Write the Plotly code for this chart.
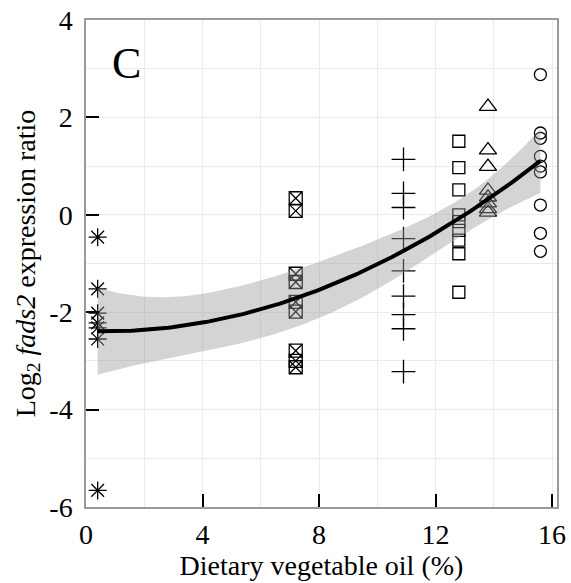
import numpy as np
import plotly.graph_objects as go

# Dietary vegetable oil inclusion (%) for each diet group
oil_levels = [0.4, 7.2, 10.9, 12.8, 13.8, 15.6]

# Log2 fads2 expression ratio per fish, one list per diet group
expr_00 = [-0.46, -1.52, -2.02, -2.22, -2.32, -2.55, -5.66]
expr_07 = [0.34, 0.08, -1.21, -1.38, -1.79, -1.99, -2.79, -3.00, -3.13]
expr_11 = [1.14, 0.44, 0.15, -0.49, -1.15, -1.67, -2.05, -2.34, -3.22]
expr_13 = [1.51, 0.97, 0.51, 0.00, -0.14, -0.32, -0.52, -0.80, -1.59]
expr_14 = [2.22, 1.33, 0.99, 0.50, 0.36, 0.24, 0.12, 0.05]
expr_16 = [2.88, 1.68, 1.57, 1.20, 1.00, 0.88, 0.20, -0.38, -0.75]

groups = [expr_00, expr_07, expr_11, expr_13, expr_14, expr_16]
symbols = ["asterisk-open", "square-x-open", "cross-thin-open",
           "square-open", "triangle-up-open", "circle-open"]
sizes = [15, 13, 17, 12, 15, 12]

x_ticks = [0, 4, 8, 12, 16]
y_ticks = [-6, -4, -2, 0, 2, 4]

FONT = "Liberation Serif, Times New Roman, serif"

fig = go.Figure()

# raw observations
for lvl, vals, sym, sz in zip(oil_levels, groups, symbols, sizes):
    fig.add_trace(go.Scatter(
        x=[lvl] * len(vals), y=vals, mode="markers",
        marker=dict(symbol=sym, size=sz, color="black",
                    line=dict(color="black", width=1.3)),
        showlegend=False, hoverinfo="x+y"))

# quadratic least-squares fit with 95% confidence band
xs = np.concatenate([[lvl] * len(v) for lvl, v in zip(oil_levels, groups)])
ys = np.concatenate(groups)
X = np.column_stack([np.ones_like(xs), xs, xs ** 2])
beta, *_ = np.linalg.lstsq(X, ys, rcond=None)
resid = ys - X @ beta
dof = len(ys) - 3
s2 = resid @ resid / dof
xtx_inv = np.linalg.inv(X.T @ X)
t_crit = 2.012  # Student t, 0.975 quantile, ~47 df

xg = np.linspace(min(oil_levels), max(oil_levels), 120)
Xg = np.column_stack([np.ones_like(xg), xg, xg ** 2])
yg = Xg @ beta
se = np.sqrt(s2 * np.einsum("ij,jk,ik->i", Xg, xtx_inv, Xg))
lo, hi = yg - t_crit * se, yg + t_crit * se

fig.add_trace(go.Scatter(
    x=np.concatenate([xg, xg[::-1]]), y=np.concatenate([hi, lo[::-1]]),
    fill="toself", fillcolor="rgba(153,153,153,0.42)",
    line=dict(width=0), mode="lines", showlegend=False, hoverinfo="skip"))
fig.add_trace(go.Scatter(
    x=xg, y=yg, mode="lines", line=dict(color="black", width=4),
    showlegend=False, hoverinfo="skip"))

fig.add_annotation(x=1.4, y=3.1, text="C", showarrow=False,
                   font=dict(family=FONT, size=44, color="black"))

axis_common = dict(
    showline=True, mirror=True, linecolor="#9a9a9a", linewidth=1.5,
    ticks="inside", ticklen=13, tickwidth=2, tickcolor="black",
    tickfont=dict(family=FONT, size=28, color="black"),
    showgrid=True, gridcolor="#ebebeb", gridwidth=1, zeroline=False,
    automargin=False,
)

fig.update_layout(
    width=571, height=583,
    margin=dict(l=86, r=14, t=20, b=76, pad=0),
    paper_bgcolor="white", plot_bgcolor="white",
    font=dict(family=FONT, color="black"),
    xaxis=dict(range=[0, 16.17], tickvals=x_ticks,
               ticktext=[str(v) for v in x_ticks],
               minor=dict(dtick=2, tick0=0, showgrid=True, gridcolor="#ebebeb", ticks=""),
               ticklabelstandoff=2,
               title=dict(text="Dietary vegetable oil (%)",
                          font=dict(family=FONT, size=28), standoff=2),
               **axis_common),
    yaxis=dict(range=[-6, 4], tickvals=y_ticks,
               ticktext=[str(v) for v in y_ticks],
               minor=dict(dtick=1, tick0=0, showgrid=True, gridcolor="#ebebeb", ticks=""),
               ticklabelstandoff=6,
               title=dict(text="Log<sub>2</sub> <i>fads2</i> expression ratio",
                          font=dict(family=FONT, size=28), standoff=6),
               **axis_common),
)

fig.write_html("out.html")
